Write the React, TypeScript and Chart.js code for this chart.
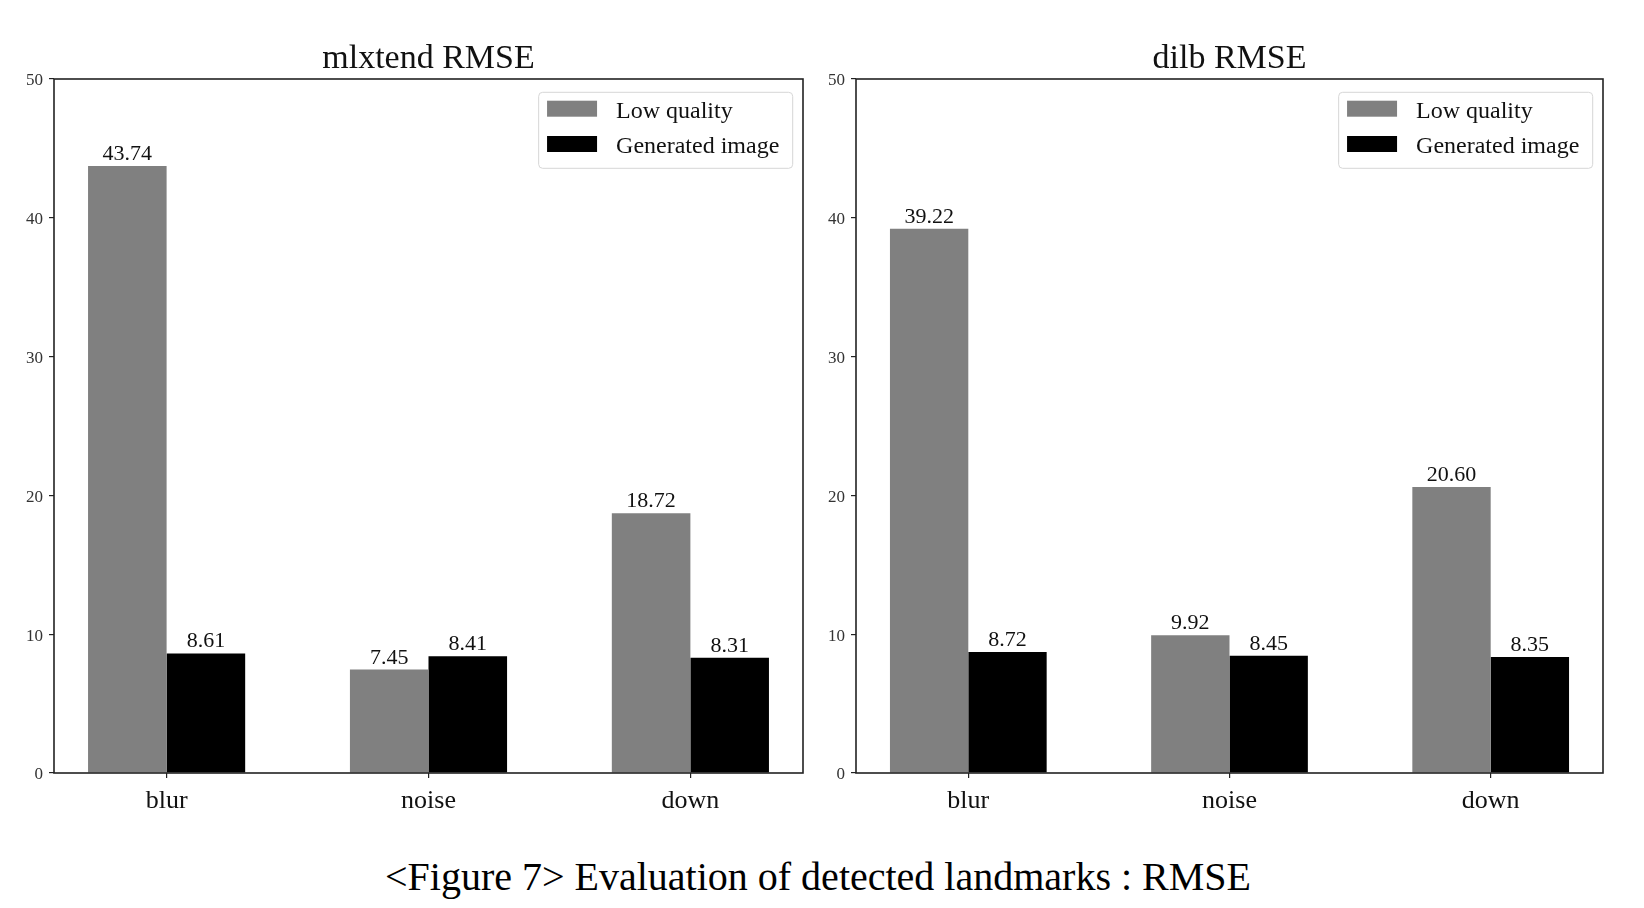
import React, { useEffect, useRef } from "react";
import { Chart, registerables } from "chart.js";

Chart.register(...registerables);

const categories = ["blur", "noise", "down"];
const seriesLabels = ["Low quality", "Generated image"];
const seriesColors = ["#808080", "#000000"];

const mlxtendLow = [43.74, 7.45, 18.72];
const mlxtendGen = [8.61, 8.41, 8.31];
const dilbLow = [39.22, 9.92, 20.6];
const dilbGen = [8.72, 8.45, 8.35];

const yTicks = [0, 10, 20, 30, 40, 50];

const leftTitle = "mlxtend RMSE";
const rightTitle = "dilb RMSE";
const caption = "<Figure 7> Evaluation of detected landmarks : RMSE";

const SERIF = "'Liberation Serif', 'Times New Roman', serif";

const decorPlugin = {
  id: "decor",
  afterDatasetsDraw(chart: any, _args: any, opts: any) {
    const ctx = chart.ctx;
    const a = chart.chartArea;
    ctx.save();
    // value labels
    ctx.fillStyle = "#111";
    ctx.font = `22px ${SERIF}`;
    ctx.textAlign = "center";
    ctx.textBaseline = "alphabetic";
    chart.data.datasets.forEach((ds: any, di: number) => {
      const meta = chart.getDatasetMeta(di);
      meta.data.forEach((el: any, j: number) => {
        const v = ds.data[j].y;
        ctx.fillText(v.toFixed(2), el.x, el.y - 6);
      });
    });
    // frame
    ctx.strokeStyle = "#222";
    ctx.lineWidth = 1.6;
    ctx.strokeRect(a.left, a.top, a.right - a.left, a.bottom - a.top);
    // title
    ctx.fillStyle = "#111";
    ctx.font = `34px ${SERIF}`;
    ctx.textAlign = "center";
    ctx.textBaseline = "alphabetic";
    ctx.fillText(opts.title, (a.left + a.right) / 2, 68);
    // legend
    ctx.font = `24px ${SERIF}`;
    const padL = 8.4, patchW = 50, patchH = 16, gap = 19, padR = 13.4;
    let textW = 0;
    chart.data.datasets.forEach((ds: any) => {
      textW = Math.max(textW, ctx.measureText(ds.label).width);
    });
    const w = padL + patchW + gap + textW + padR;
    const h = 76;
    const x0 = a.right - 10.3 - w;
    const y0 = a.top + 13.3;
    const r = 4;
    ctx.beginPath();
    ctx.moveTo(x0 + r, y0);
    ctx.lineTo(x0 + w - r, y0);
    ctx.arcTo(x0 + w, y0, x0 + w, y0 + r, r);
    ctx.lineTo(x0 + w, y0 + h - r);
    ctx.arcTo(x0 + w, y0 + h, x0 + w - r, y0 + h, r);
    ctx.lineTo(x0 + r, y0 + h);
    ctx.arcTo(x0, y0 + h, x0, y0 + h - r, r);
    ctx.lineTo(x0, y0 + r);
    ctx.arcTo(x0, y0, x0 + r, y0, r);
    ctx.closePath();
    ctx.fillStyle = "rgba(255,255,255,0.8)";
    ctx.fill();
    ctx.strokeStyle = "#d6d6d6";
    ctx.lineWidth = 1;
    ctx.stroke();
    chart.data.datasets.forEach((ds: any, i: number) => {
      const cy = y0 + 16.4 + i * 35.3;
      ctx.fillStyle = ds.backgroundColor;
      ctx.fillRect(x0 + padL, cy - patchH / 2, patchW, patchH);
      ctx.fillStyle = "#111";
      ctx.textAlign = "left";
      ctx.textBaseline = "middle";
      ctx.fillText(ds.label, x0 + padL + patchW + gap, cy + 3);
    });
    ctx.restore();
  },
};

function makeConfig(title: string, low: number[], gen: number[], yAxisW: number, padRight: number) {
  const toPts = (arr: number[]) => categories.map((_, i) => ({ x: i, y: arr[i] }));
  return {
    type: "bar" as const,
    data: {
      datasets: [
        { label: seriesLabels[0], data: toPts(low), backgroundColor: seriesColors[0], categoryPercentage: 0.6, barPercentage: 1.0 },
        { label: seriesLabels[1], data: toPts(gen), backgroundColor: seriesColors[1], categoryPercentage: 0.6, barPercentage: 1.0 },
      ],
    },
    options: {
      animation: false,
      responsive: false,
      devicePixelRatio: 1,
      layout: { padding: { top: 79, left: 0, right: padRight, bottom: 0 } },
      plugins: {
        legend: { display: false },
        title: { display: false },
        tooltip: { enabled: false },
        decor: { title },
      },
      scales: {
        x: {
          type: "linear",
          min: -0.43,
          max: 2.43,
          offset: false,
          afterBuildTicks: (axis: any) => {
            axis.ticks = categories.map((_, i) => ({ value: i }));
          },
          afterFit: (axis: any) => {
            axis.height = 57;
          },
          ticks: {
            callback: (v: any) => categories[v] ?? "",
            font: { family: SERIF, size: 26 },
            color: "#111",
            padding: 8,
            maxRotation: 0,
            autoSkip: false,
          },
          grid: { drawOnChartArea: false, drawTicks: true, tickLength: 5, color: "#222", lineWidth: 1.2, offset: false },
          border: { display: false },
        },
        y: {
          min: 0,
          max: 50,
          afterBuildTicks: (axis: any) => {
            axis.ticks = yTicks.map((v) => ({ value: v }));
          },
          afterFit: (axis: any) => {
            axis.width = yAxisW;
          },
          ticks: {
            font: { family: SERIF, size: 17 },
            color: "#333",
            padding: 6,
            labelOffset: 2,
          },
          grid: { drawOnChartArea: false, drawTicks: true, tickLength: 5, color: "#222", lineWidth: 1.2 },
          border: { display: false },
        },
      },
    },
    plugins: [decorPlugin],
  };
}

function BarPanel(props: { title: string; low: number[]; gen: number[]; left: number; width: number; yAxisW: number; padRight: number }) {
  const ref = useRef<HTMLCanvasElement | null>(null);
  useEffect(() => {
    if (!ref.current) return;
    const chart = new Chart(ref.current, makeConfig(props.title, props.low, props.gen, props.yAxisW, props.padRight) as any);
    return () => chart.destroy();
  }, []);
  return (
    <canvas
      ref={ref}
      width={props.width}
      height={830}
      style={{ position: "absolute", left: props.left, top: 0, width: props.width, height: 830 }}
    />
  );
}

export default function App() {
  return (
    <div style={{ position: "absolute", left: 0, top: 0, width: 1644, height: 908, background: "#fff", overflow: "hidden" }}>
      <BarPanel title={leftTitle} low={mlxtendLow} gen={mlxtendGen} left={0} width={810} yAxisW={54} padRight={7} />
      <BarPanel title={rightTitle} low={dilbLow} gen={dilbGen} left={810} width={834} yAxisW={46} padRight={41} />
      <div
        style={{
          position: "absolute",
          left: 0,
          top: 857,
          width: 1636,
          textAlign: "center",
          fontFamily: SERIF,
          fontSize: 40,
          lineHeight: "40px",
          color: "#000",
          whiteSpace: "nowrap",
        }}
      >
        {caption}
      </div>
    </div>
  );
}
